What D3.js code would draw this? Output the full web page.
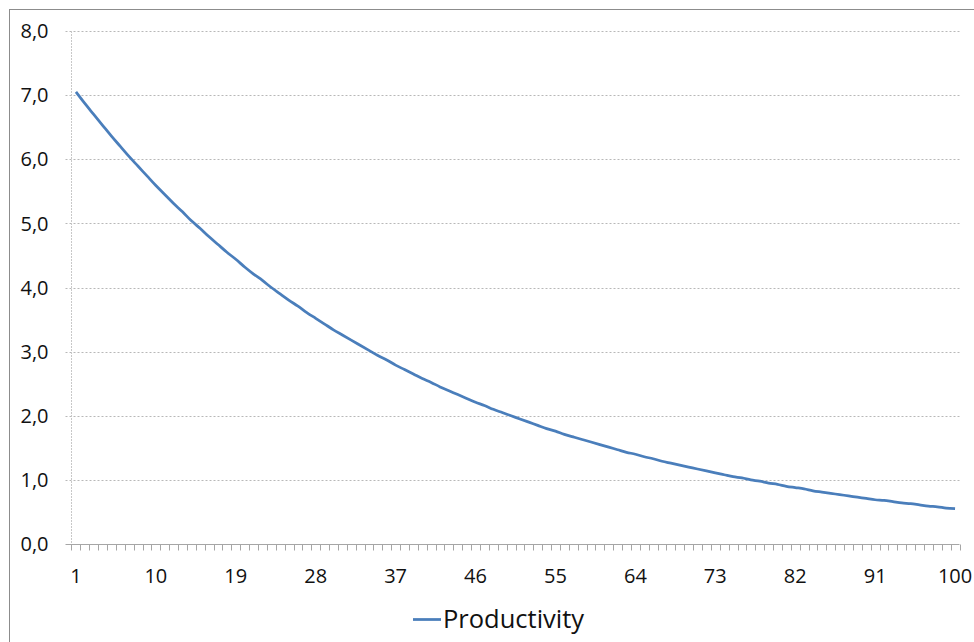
<!DOCTYPE html>
<html>
<head>
<meta charset="utf-8">
<script src="https://cdn.jsdelivr.net/npm/d3@7"></script>
<style>
  body { margin: 0; background: #fff; }
  svg { display: block; font-family: "Open Sans", "Noto Sans", sans-serif; }
</style>
</head>
<body>
<svg id="chart" width="974" height="642"></svg>
<script>
// periods 1..100
const periods = d3.range(1, 101);

// productivity
const productivity = [
  7.05, 6.87, 6.70, 6.53, 6.36, 6.20, 6.04, 5.89, 5.74, 5.59,
  5.45, 5.31, 5.18, 5.04, 4.92, 4.79, 4.67, 4.55, 4.44, 4.32,
  4.21, 4.11, 4.00, 3.90, 3.80, 3.71, 3.61, 3.52, 3.43, 3.34,
  3.26, 3.18, 3.10, 3.02, 2.94, 2.87, 2.79, 2.72, 2.65, 2.58,
  2.52, 2.45, 2.39, 2.33, 2.27, 2.21, 2.16, 2.10, 2.05, 2.00,
  1.95, 1.90, 1.85, 1.80, 1.76, 1.71, 1.67, 1.63, 1.59, 1.55,
  1.51, 1.47, 1.43, 1.40, 1.36, 1.33, 1.29, 1.26, 1.23, 1.20,
  1.17, 1.14, 1.11, 1.08, 1.05, 1.03, 1.00, 0.98, 0.95, 0.93,
  0.90, 0.88, 0.86, 0.83, 0.81, 0.79, 0.77, 0.75, 0.73, 0.71,
  0.69, 0.68, 0.66, 0.64, 0.63, 0.61, 0.59, 0.58, 0.56, 0.55
];

const yTicks = [0, 1, 2, 3, 4, 5, 6, 7, 8];
const xLabels = [1, 10, 19, 28, 37, 46, 55, 64, 73, 82, 91, 100];
const seriesName = "Productivity";

const svg = d3.select("#chart");
const plotLeft = 71.5, plotRight = 959.5, plotTop = 31, plotBottom = 544;

// chart frame
svg.append("rect")
  .attr("x", 9.5).attr("y", 9.5)
  .attr("width", 1000).attr("height", 1000)
  .attr("fill", "none")
  .attr("stroke", "#8c8c8c");

const x = d3.scaleBand().domain(periods).range([plotLeft, plotRight]);
const y = d3.scaleLinear().domain([0, 8]).range([plotBottom, plotTop]);
const fmt = v => d3.format(".1f")(v).replace(".", ",");

// gridlines
svg.append("g").selectAll("line")
  .data(yTicks.filter(d => d > 0))
  .enter().append("line")
  .attr("x1", plotLeft - 6).attr("x2", plotRight)
  .attr("y1", d => Math.round(y(d)) + 0.5).attr("y2", d => Math.round(y(d)) + 0.5)
  .attr("stroke", "#b8b8b8")
  .attr("stroke-dasharray", "2,2");

// y axis line
svg.append("line")
  .attr("x1", plotLeft).attr("x2", plotLeft)
  .attr("y1", plotTop).attr("y2", plotBottom)
  .attr("stroke", "#c8c8c8")
  .attr("stroke-dasharray", "2,1");

// y labels
svg.append("g").selectAll("text")
  .data(yTicks)
  .enter().append("text")
  .attr("x", 48.5)
  .attr("y", d => y(d))
  .attr("dy", "0.36em")
  .attr("text-anchor", "end")
  .attr("font-size", 20)
  .attr("fill", "#111")
  .text(fmt);

// x axis
const xAxis = d3.axisBottom(x)
  .tickValues(xLabels)
  .tickSize(0)
  .tickPadding(24)
  .tickFormat(d => d);
const gx = svg.append("g")
  .attr("transform", `translate(0,${Math.round(plotBottom) + 0.5})`)
  .call(xAxis);
gx.select(".domain").attr("stroke", "#a6a6a6").attr("d", `M${plotLeft - 6},0H${plotRight}`);
gx.selectAll(".tick text")
  .attr("font-size", 20)
  .attr("font-family", "Open Sans, sans-serif")
  .attr("fill", "#111");

// tick marks between categories
const bounds = periods.map(p => x(p)).concat([plotRight]);
gx.append("g").selectAll("line")
  .data(bounds)
  .enter().append("line")
  .attr("x1", d => Math.round(d) + 0.5).attr("x2", d => Math.round(d) + 0.5)
  .attr("y1", 0).attr("y2", 6)
  .attr("stroke", "#a6a6a6");

// line
const line = d3.line()
  .x((d, i) => x(periods[i]) + x.bandwidth() / 2)
  .y(d => y(d))
  .curve(d3.curveMonotoneX);

svg.append("path")
  .datum(productivity)
  .attr("d", line)
  .attr("fill", "none")
  .attr("stroke", "#4a7ebb")
  .attr("stroke-width", 2.75)
  .attr("stroke-linejoin", "round");

// legend
const lg = svg.append("g").attr("transform", "translate(413,619.5)");
lg.append("line")
  .attr("x1", 0).attr("x2", 28)
  .attr("stroke", "#4a7ebb")
  .attr("stroke-width", 2.75);
lg.append("text")
  .attr("x", 30)
  .attr("y", 8.5)
  .attr("font-size", 25.5)
  .attr("fill", "#111")
  .text(seriesName);
</script>
</body>
</html>
